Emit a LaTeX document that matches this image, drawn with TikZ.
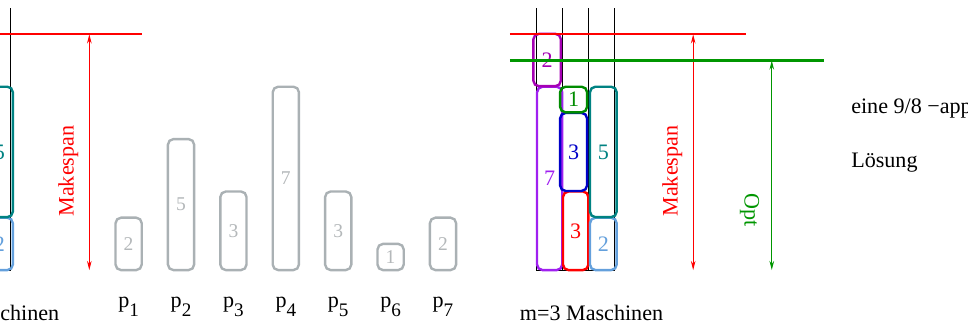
\documentclass[tikz,border=0pt]{standalone}
\usepackage{fontspec}
\setmainfont{Liberation Serif}
\usetikzlibrary{arrows.meta}

\definecolor{jobgray}{RGB}{170,177,180}
\definecolor{numgray}{RGB}{180,184,186}
\definecolor{jviolet}{RGB}{160,32,240}
\definecolor{jmagenta}{RGB}{165,0,180}
\definecolor{jgreen}{RGB}{0,140,0}
\definecolor{jblue}{RGB}{0,0,200}
\definecolor{jred}{RGB}{255,0,0}
\definecolor{jteal}{RGB}{0,130,130}
\definecolor{jlight}{RGB}{100,160,220}
\definecolor{optgreen}{RGB}{0,150,0}

\tikzset{
  job/.style={rounded corners=3pt,line width=1.3pt},
  column/.style={line width=0.5pt},
  level/.style={line width=1.1pt},
  span/.style={line width=0.5pt,{Stealth[length=5pt,width=2.5pt]}-{Stealth[length=5pt,width=2.5pt]}},
}

% one schedule on m=3 machines
\newcommand{\plan}{%
  \foreach \i in {0,...,3} \draw[column] (\i,0) -- (\i,10);
  \draw[column] (0,0) -- (3,0);
  % machine 1
  \draw[job,jviolet] (0.04,0) rectangle node (j4) {7} (1,7);
  \draw[job,jmagenta] (-0.1,7.02) rectangle node (j1) {2} (0.95,9.02);
  % machine 2
  \draw[job,jred] (1.03,0) rectangle node (j3) {3} (2,3);
  \draw[job,jblue] (0.92,3.02) rectangle node (j5) {3} (1.95,6);
  \draw[job,jgreen] (0.92,6.02) rectangle node (j6) {1} (1.95,7);
  % machine 3
  \draw[job,jlight] (2.06,0) rectangle node (j7) {2} (3.08,2);
  \draw[job,jteal] (2.06,2.02) rectangle node (j2) {5} (3.08,7);
  % makespan
  \coordinate (cmaxL) at (-1,9);
  \coordinate (cmaxR) at (8.02,9);
  \coordinate (cmaxT) at (6,9);
  \coordinate (cmaxB) at (6,0);
  \draw[level,jred] (cmaxL) -- (cmaxR);
  \draw[span,jred] (cmaxT) -- (cmaxB);
  \node (cmax) [jred,rotate=90] at (5.2,3.78) {Makespan};
  \node (machines) [anchor=base] at (2.12,-1.91) {m=3 Maschinen};
}

\begin{document}
\begin{tikzpicture}[x=0.5cm,y=0.5cm,font=\fontsize{12}{14}\selectfont]
\useasboundingbox (-20.46,-2.06) rectangle (16.49,10.31);
\clip (-20.46,-2.06) rectangle (16.49,10.31);

% left: a schedule
\begin{scope}[shift={(-23.05,0)},name prefix=l-]
\plan
\end{scope}

% the jobs
\foreach \i/\p/\x in {1/2/-15.55,2/5/-13.55,3/3/-11.55,4/7/-9.55,5/3/-7.55,6/1/-5.55,7/2/-3.55}{
  \draw[job,jobgray] (\x-0.5,0) rectangle node[numgray,font=\fontsize{10.6}{12}\selectfont] (p\i) {\p} (\x+0.5,\p);
  \node (pl\i) [anchor=base] at (\x,-1.41) {p\raisebox{-0.45em}{\fontsize{10.4}{12}\selectfont\i}};
}

% right: schedule with Opt
\begin{scope}[name prefix=r-]
\plan
\coordinate (optL) at (-1,8);
\coordinate (optR) at (11,8);
\coordinate (optT) at (9,8);
\coordinate (optB) at (9,0);
\draw[level,optgreen] (optL) -- (optR);
\draw[span,optgreen] (optT) -- (optB);
\node (opt) [optgreen,rotate=-90] at (8.15,2.3) {Opt};
\end{scope}

\node (approx) [anchor=base west,inner sep=0pt] at (12.02,5.99) {eine 9/8 −approximative};
\node (loesung) [anchor=base west,inner sep=0pt] at (12.02,3.93) {Lösung};
\end{tikzpicture}
\end{document}
